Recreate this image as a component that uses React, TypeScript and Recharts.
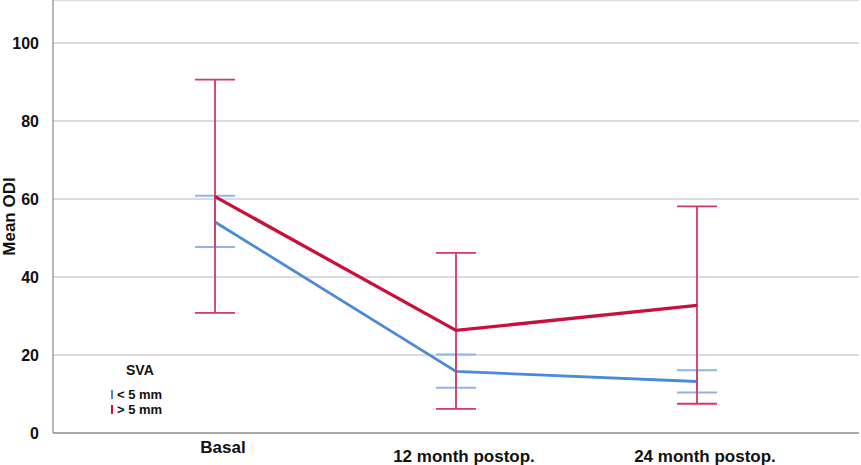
import { LineChart, Line, XAxis, YAxis, CartesianGrid, ErrorBar, Legend, Label } from 'recharts';

const categories = ['Basal', '12 month postop.', '24 month postop.'];

// SVA < 5 mm
const lowMean = [54.1, 15.8, 13.2];
const lowLower = [47.7, 11.6, 10.4];
const lowUpper = [60.8, 20.1, 16.1];

// SVA > 5 mm
const highMean = [60.6, 26.3, 32.7];
const highLower = [30.8, 6.2, 7.5];
const highUpper = [90.6, 46.2, 58.1];

const yTicks = [0, 20, 40, 60, 80, 100];

const data = categories.map((cat, i) => ({
  cat,
  low: lowMean[i],
  lowErr: [lowMean[i] - lowLower[i], lowUpper[i] - lowMean[i]],
  high: highMean[i],
  highErr: [highMean[i] - highLower[i], highUpper[i] - highMean[i]],
}));

const FONT = '"Liberation Sans", Arial, sans-serif';
const RED = '#c8103a';
const BLUE = '#4a8ad8';

const XTick = ({ x, y, payload, index }: any) => (
  <text
    x={x + 8}
    y={y + (index === 0 ? 20 : 28.5)}
    textAnchor="middle"
    fontFamily={FONT}
    fontWeight="bold"
    fontSize={17}
    fill="#111"
  >
    {payload.value}
  </text>
);

const renderLegend = ({ payload }: any) => (
  <div style={{ fontFamily: FONT, fontWeight: 'bold', color: '#111' }}>
    <div style={{ fontSize: 14, marginLeft: 15, marginBottom: 9 }}>SVA</div>
    {(payload || []).map((p: any) => (
      <div key={p.value} style={{ display: 'flex', alignItems: 'center', fontSize: 13, lineHeight: '15px' }}>
        <span style={{ display: 'inline-block', width: 2, height: 9, background: p.color, marginRight: 4 }} />
        {p.value}
      </div>
    ))}
  </div>
);

export default function App() {
  return (
    <div style={{ position: 'absolute', left: 0, top: 0, background: '#fff' }}>
      <LineChart width={861} height={465} data={data} margin={{ top: 0, right: 2, bottom: 0, left: 0 }}>
        <CartesianGrid vertical={false} stroke="#dcdcdc" strokeWidth={2} />
        <XAxis
          dataKey="cat"
          height={32}
          padding={{ left: 162, right: 162 }}
          axisLine={{ stroke: '#a8a8a8', strokeWidth: 2 }}
          tickLine={false}
          tickSize={0}
          tickMargin={0}
          tick={<XTick />}
        />
        <YAxis
          width={53}
          domain={[0, 111]}
          ticks={yTicks}
          allowDataOverflow
          axisLine={{ stroke: '#a0a0a0', strokeWidth: 1.5 }}
          tickLine={false}
          tickSize={6}
          tickMargin={8}
          tick={{ fontFamily: FONT, fontWeight: 'bold', fontSize: 16, fill: '#111' }}
        >
          <Label
            value="Mean ODI"
            angle={-90}
            position="insideLeft"
            offset={9}
            style={{ textAnchor: 'middle', fontFamily: FONT, fontWeight: 'bold', fontSize: 17, fill: '#111' }}
          />
        </YAxis>
        <Legend
          layout="vertical"
          align="center"
          verticalAlign="middle"
          wrapperStyle={{ left: 111, top: 362, width: 'auto' }}
          content={renderLegend}
        />
        <Line
          dataKey="low"
          name="< 5 mm"
          stroke={BLUE}
          strokeWidth={2.8}
          dot={false}
          activeDot={false}
          isAnimationActive={false}
        >
          <ErrorBar dataKey="lowErr" width={20} stroke="#8fb4e6" strokeWidth={2} />
        </Line>
        <Line
          dataKey="high"
          name="> 5 mm"
          stroke={RED}
          strokeWidth={3.3}
          dot={false}
          activeDot={false}
          isAnimationActive={false}
        >
          <ErrorBar dataKey="highErr" width={20} stroke="#d03a64" strokeWidth={1.8} />
        </Line>
      </LineChart>
    </div>
  );
}
